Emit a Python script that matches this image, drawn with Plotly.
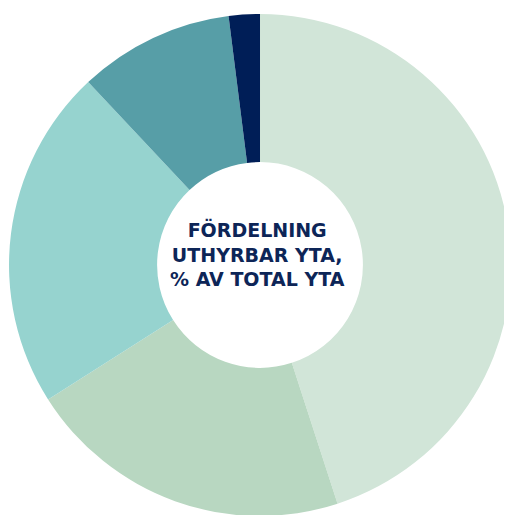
import plotly.graph_objects as go

# share of lettable area per category, % of total area
labels = ["Kategori 1", "Kategori 2", "Kategori 3", "Kategori 4", "Kategori 5"]
values = [45, 21, 22, 10, 2]
colors = ["#d1e5d8", "#b8d7c1", "#96d3cf", "#579ea7", "#001e57"]

center_text = "FÖRDELNING<br>UTHYRBAR YTA,<br>% AV TOTAL YTA"

# the page body adds an 8px margin, so the pie is placed a bit up and left
W, H = 512, 515

fig = go.Figure(data=[go.Pie(
    labels=labels,
    values=values,
    hole=0.41,
    sort=False,
    direction="clockwise",
    rotation=0,
    marker=dict(colors=colors, line=dict(width=0)),
    textinfo="none",
    hoverinfo="label+percent",
    showlegend=False,
    domain=dict(x=[0.002, 0.9824], y=[0.0136, 0.9884]),
)])

fig.add_annotation(
    text="<b>" + center_text + "</b>",
    x=0.4873, y=0.5214, xref="paper", yref="paper",
    showarrow=False,
    font=dict(family="DejaVu Sans", size=19, color="#0d2557"),
    align="center",
)

fig.update_layout(
    width=W, height=H,
    margin=dict(l=0, r=0, t=0, b=0),
    paper_bgcolor="white",
    plot_bgcolor="white",
)

fig.write_html("out.html")
